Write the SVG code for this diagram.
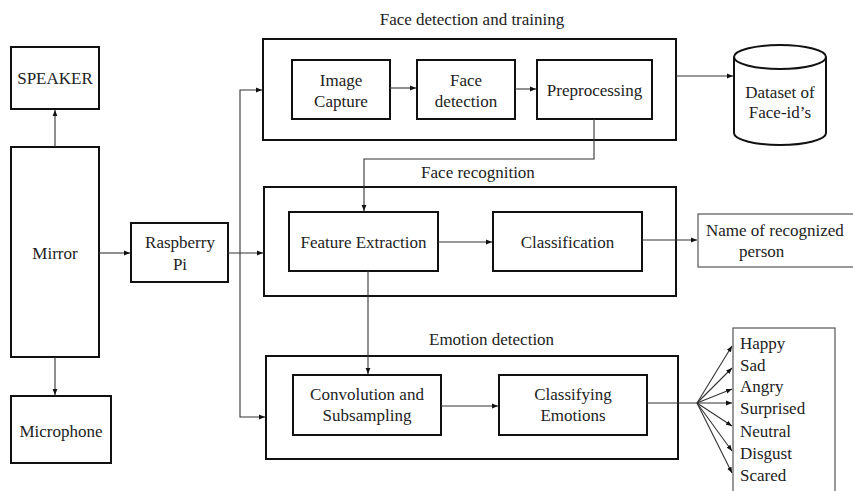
<svg xmlns="http://www.w3.org/2000/svg" width="853" height="491" viewBox="0 0 853 491" font-family="'Liberation Serif', serif">
<defs>
<marker id="ah" viewBox="0 0 10 10" refX="10" refY="5" markerWidth="6" markerHeight="6" markerUnits="userSpaceOnUse" orient="auto">
<path d="M0,1 L10,5 L0,9 z" fill="#111"/>
</marker>
<style>
text{font-family:'Liberation Serif',serif;font-size:17px;fill:#222}
.box{fill:#fff;stroke:#111;stroke-width:2}
.thin{fill:#fff;stroke:#555;stroke-width:1.2}
.m{text-anchor:middle}
.c{fill:none;stroke:#333;stroke-width:1.1;marker-end:url(#ah)}
.l{fill:none;stroke:#333;stroke-width:1.1}
</style>
</defs>
<rect width="853" height="491" fill="#fff"/>

<g id="speaker"><rect class="box" x="11" y="47" width="88" height="62"/><text class="m" x="55" y="84">SPEAKER</text></g>
<g id="mirror"><rect class="box" x="11" y="147" width="88" height="210"/><text class="m" x="55" y="259">Mirror</text></g>
<g id="microphone"><rect class="box" x="11" y="396" width="100" height="67"/><text class="m" x="61" y="437">Microphone</text></g>
<g id="raspberry"><rect class="box" x="131" y="223" width="97" height="59"/><text class="m" x="180" y="248">Raspberry</text><text class="m" x="180" y="270">Pi</text></g>

<g id="face-detection-training">
<text class="m" x="472" y="25">Face detection and training</text>
<rect class="box" x="263" y="39" width="413" height="101"/>
</g>
<g id="image-capture"><rect class="box" x="292" y="60" width="98" height="59"/><text class="m" x="341" y="86">Image</text><text class="m" x="341" y="107">Capture</text></g>
<g id="face-detection"><rect class="box" x="417" y="60" width="98" height="59"/><text class="m" x="466" y="86">Face</text><text class="m" x="466" y="107">detection</text></g>
<g id="preprocessing"><rect class="box" x="537" y="60" width="115" height="59"/><text class="m" x="594.5" y="96">Preprocessing</text></g>

<g id="dataset">
<path class="box" d="M734,57 L734,133 A46,12 0 0 0 826,133 L826,57"/>
<ellipse class="box" cx="780" cy="57" rx="46" ry="12"/>
<text class="m" x="780" y="98">Dataset of</text>
<text class="m" x="780" y="118">Face-id’s</text>
</g>

<g id="face-recognition">
<text class="m" x="478" y="178">Face recognition</text>
<rect class="box" x="264" y="187" width="412" height="109"/>
</g>
<g id="feature-extraction"><rect class="box" x="289" y="212" width="149" height="59"/><text class="m" x="363.5" y="248">Feature Extraction</text></g>
<g id="classification"><rect class="box" x="493" y="212" width="149" height="59"/><text class="m" x="567.5" y="248">Classification</text></g>
<g id="name-of-person"><rect class="thin" x="698" y="214" width="160" height="53"/><text x="706" y="236">Name of recognized</text><text x="739" y="257">person</text></g>

<g id="emotion-detection">
<text x="429" y="345">Emotion detection</text>
<rect class="box" x="266" y="356" width="412" height="103"/>
</g>
<g id="convolution"><rect class="box" x="293" y="375" width="148" height="60"/><text class="m" x="367" y="400">Convolution and</text><text class="m" x="367" y="421">Subsampling</text></g>
<g id="classifying-emotions"><rect class="box" x="499" y="375" width="148" height="60"/><text class="m" x="573" y="400">Classifying</text><text class="m" x="573" y="421">Emotions</text></g>

<g id="emotions-list">
<rect class="thin" x="733" y="328" width="102" height="170"/>
<text x="740" y="349">Happy</text>
<text x="740" y="371">Sad</text>
<text x="740" y="392">Angry</text>
<text x="740" y="414">Surprised</text>
<text x="740" y="437">Neutral</text>
<text x="740" y="459">Disgust</text>
<text x="740" y="481">Scared</text>
</g>

<g id="connectors">
<path class="c" d="M55,147 L55,110"/>
<path class="c" d="M55,357 L55,395"/>
<path class="c" d="M99,253 L130,253"/>
<path class="c" d="M228,253 L263,253"/>
<path class="c" d="M240,253 L240,90 L262,90"/>
<path class="c" d="M240,253 L240,417 L265,417"/>
<path class="c" d="M390,88 L416,88"/>
<path class="c" d="M515,89 L536,89"/>
<path class="c" d="M676,76 L733,76"/>
<path class="c" d="M594,119 L594,159 L364,159 L364,211"/>
<path class="c" d="M438,242 L492,242"/>
<path class="c" d="M642,240 L697,240"/>
<path class="c" d="M368,271 L368,374"/>
<path class="c" d="M441,406 L498,406"/>
<path class="l" d="M647,403 L697,403"/>
<path class="c" d="M697,403 L732,346"/>
<path class="c" d="M697,403 L732,368"/>
<path class="c" d="M697,403 L732,389"/>
<path class="c" d="M697,403 L732,403"/>
<path class="c" d="M697,403 L732,426"/>
<path class="c" d="M697,403 L732,451"/>
<path class="c" d="M697,403 L732,473"/>
</g>
</svg>
